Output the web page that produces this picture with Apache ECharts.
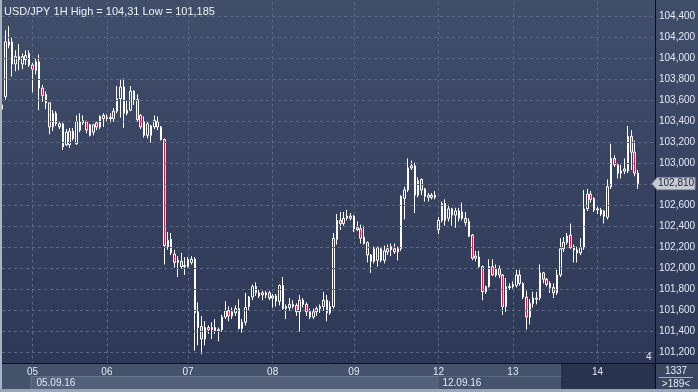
<!DOCTYPE html>
<html><head><meta charset="utf-8">
<script src="https://cdn.jsdelivr.net/npm/echarts/dist/echarts.min.js"></script>
<style>html,body{margin:0;padding:0;background:#2c3856;overflow:hidden}#c{width:698px;height:392px}</style>
</head><body><div id="c"></div>
<script>
// ---------- data ----------
const title = 'USD/JPY 1H High = 104,31 Low = 101,185';
const lastPrice = 102.81;
const dayLabels = ['05','06','07','08','09','12','13','14'];
const dayIndex  = [9, 31, 55, 80, 104, 129, 151, 176];
const weekLabels = ['05.09.16','12.09.16'];
const yTicks = [101.2,101.4,101.6,101.8,102.0,102.2,102.4,102.6,102.8,103.0,103.2,103.4,103.6,103.8,104.0,104.2,104.4];
const slotCount = 194;
const categories = Array.from({length: slotCount}, (_, i) => 'h' + i);

const opens = [103.52,103.64,104.13,104.16,103.95,104.02,103.95,103.99,104.05,103.94,
103.89,103.97,103.72,103.66,103.58,103.35,103.48,103.38,103.38,103.18,
103.18,103.31,103.19,103.32,103.39,103.40,103.37,103.30,103.39,103.35,
103.46,103.43,103.44,103.43,103.50,103.62,103.73,103.51,103.51,103.69,
103.61,103.46,103.40,103.27,103.27,103.35,103.40,103.35,103.23,102.21,
102.28,102.14,102.06,102.07,102.02,102.02,102.06,102.09,101.59,101.45,
101.33,101.44,101.42,101.44,101.41,101.42,101.54,101.60,101.55,101.58,
101.62,101.43,101.49,101.64,101.73,101.83,101.74,101.77,101.75,101.77,
101.72,101.74,101.69,101.84,101.64,101.63,101.64,101.65,101.59,101.70,
101.66,101.59,101.54,101.59,101.62,101.64,101.70,101.58,101.64,102.28,
102.46,102.43,102.48,102.50,102.50,102.39,102.38,102.30,102.25,102.13,
102.07,102.08,102.19,102.08,102.16,102.18,102.19,102.16,102.19,102.67,
102.75,102.96,102.98,102.70,102.85,102.76,102.68,102.70,102.68,102.37,
102.46,102.62,102.48,102.57,102.51,102.55,102.48,102.48,102.45,102.32,
102.10,102.11,102.02,101.78,101.83,102.02,101.94,102.00,101.94,101.64,
101.82,101.83,101.84,101.94,101.86,101.73,101.54,101.67,101.71,101.72,
101.96,101.90,101.86,101.82,101.77,101.94,102.19,102.25,102.32,102.21,
102.18,102.15,102.20,102.57,102.71,102.67,102.57,102.52,102.55,102.49,
102.78,103.05,102.99,102.93,102.93,102.93,103.26,103.11,102.91];

const closes = [103.56,104.16,104.16,103.95,104.02,103.99,104.02,104.03,103.94,103.90,
103.97,103.72,103.65,103.58,103.35,103.48,103.38,103.35,103.16,103.30,
103.31,103.24,103.40,103.40,103.41,103.32,103.27,103.37,103.35,103.45,
103.43,103.44,103.43,103.50,103.62,103.73,103.48,103.48,103.69,103.61,
103.42,103.35,103.27,103.38,103.36,103.41,103.35,103.23,102.22,102.27,
102.15,102.06,102.08,102.02,102.03,102.09,102.09,101.58,101.44,101.33,
101.44,101.42,101.44,101.41,101.42,101.54,101.60,101.55,101.59,101.62,
101.43,101.49,101.63,101.73,101.83,101.77,101.77,101.75,101.77,101.72,
101.74,101.69,101.84,101.62,101.62,101.66,101.66,101.59,101.70,101.66,
101.59,101.54,101.59,101.62,101.64,101.70,101.58,101.64,102.29,102.46,
102.43,102.48,102.50,102.48,102.38,102.37,102.29,102.24,102.13,102.07,
102.19,102.20,102.08,102.17,102.19,102.21,102.16,102.19,102.69,102.75,
102.96,102.98,102.70,102.84,102.75,102.69,102.70,102.68,102.70,102.46,
102.62,102.46,102.57,102.51,102.55,102.48,102.54,102.44,102.31,102.10,
102.12,102.02,101.78,101.83,102.02,101.94,102.00,101.94,101.64,101.83,
101.83,101.85,101.94,101.86,101.73,101.54,101.67,101.72,101.72,101.96,
101.90,101.85,101.82,101.77,101.94,102.19,102.25,102.31,102.20,102.18,
102.15,102.20,102.57,102.71,102.66,102.56,102.56,102.56,102.50,102.78,
103.05,102.99,102.91,102.91,102.95,103.26,103.11,102.91,102.81];

const highs = [103.68,104.27,104.31,104.20,104.08,104.14,104.05,104.08,104.08,103.96,
104.00,104.04,103.75,103.69,103.58,103.51,103.50,103.40,103.39,103.33,
103.34,103.34,103.46,103.48,103.46,103.41,103.38,103.38,103.40,103.46,
103.48,103.47,103.48,103.53,103.74,103.80,103.81,103.60,103.74,103.70,
103.66,103.47,103.45,103.40,103.37,103.46,103.45,103.36,103.24,102.35,
102.34,102.18,102.12,102.15,102.11,102.11,102.12,102.11,101.68,101.55,
101.50,101.46,101.49,101.52,101.44,101.56,101.69,101.64,101.63,101.65,
101.71,101.52,101.77,101.74,101.85,101.87,101.80,101.79,101.79,101.79,
101.76,101.76,101.85,101.92,101.66,101.72,101.70,101.67,101.75,101.72,
101.68,101.62,101.62,101.64,101.66,101.78,101.75,101.69,102.34,102.52,
102.54,102.54,102.56,102.53,102.51,102.45,102.42,102.41,102.26,102.14,
102.21,102.21,102.21,102.22,102.23,102.24,102.24,102.21,102.70,102.78,
103.05,103.03,103.01,102.87,102.86,102.77,102.72,102.72,102.74,102.49,
102.64,102.66,102.61,102.58,102.58,102.58,102.63,102.54,102.48,102.33,
102.17,102.17,102.03,101.84,102.09,102.09,102.04,102.03,101.95,101.91,
101.86,101.88,101.99,101.99,101.87,101.79,101.71,101.78,101.78,102.04,
101.97,101.91,101.88,101.86,101.99,102.29,102.30,102.34,102.43,102.23,
102.21,102.29,102.75,102.76,102.74,102.68,102.59,102.58,102.56,102.85,
103.19,103.08,103.00,102.99,103.05,103.36,103.32,103.22,102.94];

const lows = [103.45,103.61,104.10,103.83,103.88,103.89,103.90,103.94,103.92,103.68,
103.85,103.51,103.59,103.52,103.28,103.31,103.36,103.33,103.13,103.17,
103.15,103.22,103.18,103.30,103.37,103.29,103.26,103.27,103.32,103.33,
103.35,103.40,103.39,103.40,103.48,103.44,103.34,103.46,103.50,103.56,
103.40,103.33,103.25,103.24,103.20,103.33,103.32,103.22,102.04,102.18,
102.13,102.01,101.92,102.00,101.94,102.01,102.04,101.22,101.27,101.185,
101.27,101.38,101.33,101.38,101.31,101.40,101.52,101.50,101.52,101.55,
101.42,101.39,101.46,101.60,101.70,101.74,101.72,101.70,101.72,101.70,
101.63,101.64,101.65,101.61,101.52,101.60,101.62,101.55,101.40,101.63,
101.55,101.52,101.52,101.55,101.58,101.60,101.50,101.56,101.62,102.23,
102.37,102.41,102.46,102.46,102.35,102.36,102.24,102.23,102.06,101.96,
102.05,102.02,102.06,102.05,102.13,102.12,102.14,102.08,102.17,102.47,
102.73,102.94,102.53,102.68,102.70,102.64,102.64,102.66,102.66,102.33,
102.44,102.41,102.45,102.41,102.39,102.45,102.46,102.41,102.30,102.08,
102.07,102.01,101.70,101.76,101.82,101.93,101.92,101.91,101.56,101.59,
101.80,101.81,101.82,101.84,101.71,101.42,101.47,101.63,101.66,101.70,
101.86,101.83,101.77,101.72,101.75,101.92,102.16,102.23,102.19,102.06,
102.06,102.13,102.18,102.55,102.63,102.54,102.52,102.50,102.43,102.47,
102.76,102.97,102.86,102.86,102.90,102.91,102.94,102.88,102.76];

// ---------- chart ----------
const FONT = "'Liberation Sans', Arial, sans-serif";
const candles = opens.map((o, i) => [o, closes[i], lows[i], highs[i]]);
const fmt = v => v.toFixed(3).replace('.', ',');
const chart = echarts.init(document.getElementById('c'), null, {renderer: 'canvas'});

const option = {
  animation: false,
  backgroundColor: {type: 'linear', x: 0, y: 0, x2: 0, y2: 1,
    colorStops: [{offset: 0, color: '#414e6a'}, {offset: 1, color: '#2b3655'}]},
  grid: {left: 2, right: 43, top: -4.3, bottom: 18.3, containLabel: false, outerBoundsMode: 'none'},
  xAxis: [{
    type: 'category', data: categories, boundaryGap: false, position: 'bottom', z: 0,
    axisLine: {show: false, onZero: false}, axisTick: {show: false}, axisLabel: {show: false},
    splitLine: {show: true, interval: (i) => dayIndex.includes(i),
      lineStyle: {color: '#5a6883', type: [3, 3], width: 1}}
  }, {
    type: 'category', data: categories, boundaryGap: false, position: 'bottom', offset: -10.7, z: 50,
    axisLine: {show: true, onZero: false, lineStyle: {color: '#0b101b', width: 1}},
    axisTick: {show: false}, splitLine: {show: false},
    axisLabel: {show: true, interval: (i) => dayIndex.includes(i), margin: 4,
      fontSize: 10, fontFamily: FONT,
      color: (v, i) => (dayIndex.indexOf(i) === dayIndex.length - 1 ? '#76839b' : '#e4eaf4'),
      formatter: (v, i) => { const k = dayIndex.indexOf(i); return k >= 0 ? dayLabels[k] : ''; }}
  }],
  yAxis: {
    type: 'value', position: 'right', min: 101.0, max: 104.6, interval: 0.2, z: 5,
    axisLine: {show: true, lineStyle: {color: '#0b101b', width: 1}},
    axisTick: {show: false},
    axisLabel: {show: true, margin: 4, fontSize: 10, fontFamily: FONT, color: '#e4eaf4',
      showMinLabel: false, showMaxLabel: false,
      formatter: (v) => (yTicks.some(t => Math.abs(t - v) < 1e-6) ? fmt(v) : '')},
    splitLine: {show: true, lineStyle: {color: '#5a6883', type: [3, 3], width: 1}}
  },
  series: [{
    type: 'candlestick', xAxisIndex: 0, yAxisIndex: 0, data: candles,
    barWidth: 2, clip: true, silent: true,
    itemStyle: {color: 'transparent', color0: '#e3173f', borderColor: '#ffffff',
      borderColor0: '#ffffff', borderWidth: 1}
  }]
};
chart.setOption(option);

// overlay panels (positions of price tag derived from the axis)
const yTag = chart.convertToPixel({yAxisIndex: 0}, lastPrice);
const xD0 = chart.convertToPixel({xAxisIndex: 0}, categories[dayIndex[0]]);
const xD5 = chart.convertToPixel({xAxisIndex: 0}, categories[dayIndex[5]]);
const xD7 = chart.convertToPixel({xAxisIndex: 0}, categories[dayIndex[7]]);
const G = [];
G.push({type: 'rect', z: 10, shape: {x: 0, y: 363, width: 655, height: 29}, style: {fill: '#45526c'}});
G.push({type: 'rect', z: 11, shape: {x: xD0 - 1.5, y: 376.5, width: xD5 - xD0 + 1, height: 13}, style: {fill: '#52607a', stroke: '#67748c', lineWidth: 1}});
G.push({type: 'rect', z: 11, shape: {x: xD5 - 0.5, y: 376.5, width: xD7 - xD5 - 34, height: 13}, style: {fill: '#46536d', stroke: '#5a6781', lineWidth: 1}});
G.push({type: 'rect', z: 12, shape: {x: xD7 - 35.5, y: 363.5, width: 655 - (xD7 - 35.5), height: 26}, style: {fill: '#28334d', stroke: '#1b2336', lineWidth: 1}});
G.push({type: 'text', z: 60, style: {text: weekLabels[0], x: xD0 + 4, y: 383, fill: '#e4eaf4', font: '10px ' + FONT, textVerticalAlign: 'middle'}});
G.push({type: 'text', z: 60, style: {text: weekLabels[1], x: xD5 + 4, y: 383, fill: '#e4eaf4', font: '10px ' + FONT, textVerticalAlign: 'middle'}});
G.push({type: 'rect', z: 12, shape: {x: 655.5, y: 363.5, width: 43, height: 29}, style: {fill: '#3b4762', stroke: '#0b101b', lineWidth: 1}});
G.push({type: 'text', z: 60, style: {text: '1337', x: 676, y: 371, fill: '#e4eaf4', font: '10px ' + FONT, textAlign: 'center', textVerticalAlign: 'middle'}});
G.push({type: 'line', z: 60, shape: {x1: 659, y1: 377.5, x2: 693, y2: 377.5}, style: {stroke: '#aab4c4', lineWidth: 1}});
G.push({type: 'text', z: 60, style: {text: '>189<', x: 676, y: 384.5, fill: '#e4eaf4', font: '10px ' + FONT, textAlign: 'center', textVerticalAlign: 'middle'}});
G.push({type: 'rect', z: 70, shape: {x: 0, y: 0, width: 2, height: 392}, style: {fill: '#a9b3c1'}});
G.push({type: 'rect', z: 70, shape: {x: 0, y: 389, width: 698, height: 3}, style: {fill: '#9aa6b6'}});
G.push({type: 'text', z: 60, style: {text: title, x: 4, y: 12, fill: '#eef2f8', font: "11px 'Liberation Sans Narrow', " + FONT, textVerticalAlign: 'middle'}});
G.push({type: 'text', z: 60, style: {text: '4', x: 646, y: 357, fill: '#e4eaf4', font: '10px ' + FONT, textVerticalAlign: 'middle'}});
G.push({type: 'polygon', z: 60, shape: {points: [[652, yTag], [657, yTag - 6], [695, yTag - 6], [695, yTag + 6], [657, yTag + 6]]}, style: {fill: '#c6cbd4', stroke: '#8e97a6', lineWidth: 1}});
G.push({type: 'text', z: 61, style: {text: fmt(lastPrice), x: 658, y: yTag, fill: '#1c2333', font: '10px ' + FONT, textVerticalAlign: 'middle'}});
chart.setOption({graphic: G});
</script>
</body></html>
